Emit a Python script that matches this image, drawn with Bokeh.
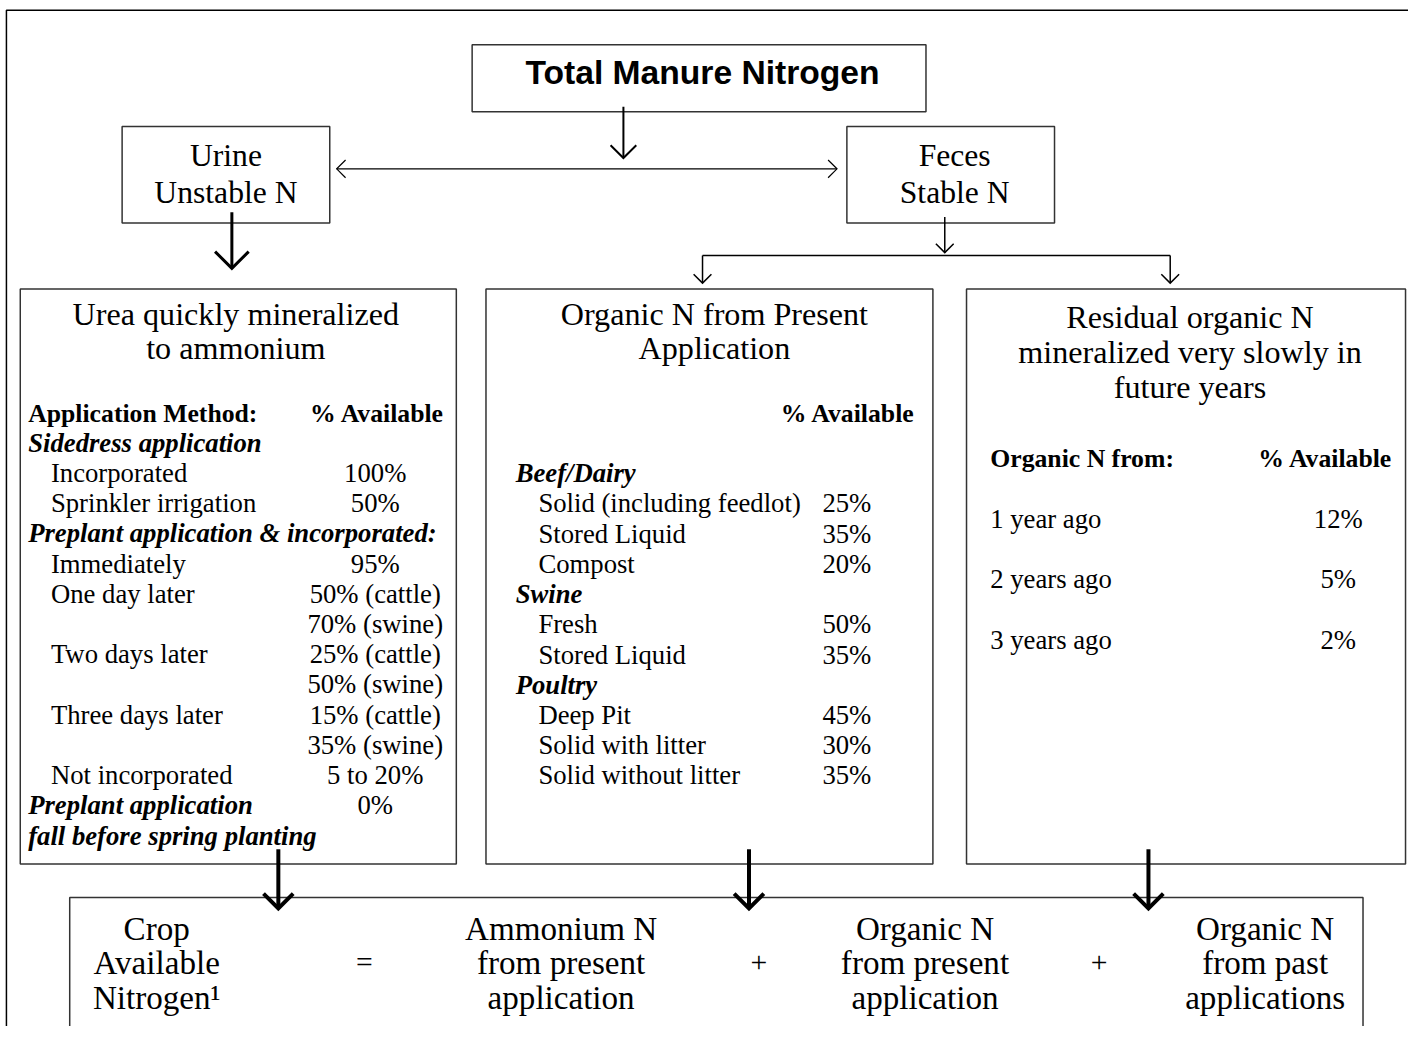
from bokeh.plotting import figure
from bokeh.models import Range1d
from bokeh.core.properties import value
from bokeh.embed import file_html
from bokeh.resources import INLINE

SERIF = "'Liberation Serif', 'Times New Roman', serif"
SANS = "'Liberation Sans Narrow', 'Arial Narrow', 'Liberation Sans', sans-serif"

# ---------------- content ----------------
title_text = "Total Manure Nitrogen"
urine_lines = ["Urine", "Unstable N"]
feces_lines = ["Feces", "Stable N"]

urea_title = ["Urea quickly mineralized", "to ammonium"]
urea_header = ["Application Method:", "% Available"]
urea_labels = ["Sidedress application", "Incorporated", "Sprinkler irrigation",
               "Preplant application & incorporated:", "Immediately", "One day later", "",
               "Two days later", "", "Three days later", "", "Not incorporated",
               "Preplant application", "fall before spring planting"]
urea_is_head = [1, 0, 0, 1, 0, 0, 0, 0, 0, 0, 0, 0, 1, 1]
urea_values = ["", "100%", "50%", "", "95%", "50% (cattle)", "70% (swine)",
               "25% (cattle)", "50% (swine)", "15% (cattle)", "35% (swine)",
               "5 to 20%", "0%", ""]

org_title = ["Organic N from Present", "Application"]
org_header = "% Available"
org_labels = ["Beef/Dairy", "Solid (including feedlot)", "Stored Liquid", "Compost",
              "Swine", "Fresh", "Stored Liquid", "Poultry", "Deep Pit",
              "Solid with litter", "Solid without litter"]
org_is_head = [1, 0, 0, 0, 1, 0, 0, 1, 0, 0, 0]
org_values = ["", "25%", "35%", "20%", "", "50%", "35%", "", "45%", "30%", "35%"]

res_title = ["Residual organic N", "mineralized very slowly in", "future years"]
res_header = ["Organic N from:", "% Available"]
res_labels = ["1 year ago", "2 years ago", "3 years ago"]
res_values = ["12%", "5%", "2%"]

eq_terms = [["Crop", "Available", "Nitrogen\u00b9"],
            ["Ammonium N", "from present", "application"],
            ["Organic N", "from present", "application"],
            ["Organic N", "from past", "applications"]]
eq_ops = ["=", "+", "+"]

# ---------------- figure ----------------
W, H = 1408, 1026
SC = W / 1424.0
p = figure(width=W, height=H, x_range=Range1d(0, 1424), y_range=Range1d(1042, 0),
           x_axis_type=None, y_axis_type=None, toolbar_location=None,
           output_backend="svg", min_border=0, outline_line_color=None)
p.grid.visible = False
p.background_fill_color = "white"
p.border_fill_color = "white"


def txt(xs, ys, texts, size, font=SERIF, style="normal", align="left"):
    p.text(x=xs, y=ys, text=texts, text_font=value(font),
           text_font_size=value(f"{size * SC:.2f}px"), text_font_style=value(style),
           text_align=value(align), text_baseline=value("middle"), text_color="black")


def box(l, r, t, b, lw=1.5, color="#333333"):
    p.quad(left=[l], right=[r], top=[t], bottom=[b], fill_color=None,
           line_color=color, line_width=lw)


def arrow(x0, y0, x1, y1, lw, h, both=False):
    p.line([x0, x1], [y0, y1], line_color="black", line_width=lw)
    ends = [(x0, y0, x1, y1)] + ([(x1, y1, x0, y0)] if both else [])
    for (ax, ay, bx, by) in ends:
        dx, dy = bx - ax, by - ay
        n = (dx * dx + dy * dy) ** 0.5
        ux, uy = dx / n, dy / n
        px, py = -uy, ux
        p.line([bx - h * ux + h * px, bx, bx - h * ux - h * px],
               [by - h * uy + h * py, by, by - h * uy - h * py],
               line_color="black", line_width=lw, line_join="miter")


REG, BLD = 27, 26

# outer frame (left & top)
p.line([6, 6, 1424], [1042, 10, 10], line_color="black", line_width=1.5)

# top boxes
box(477, 936, 45, 113)
txt([710], [73], [title_text], 34, font=SANS, style="bold", align="center")
box(123, 333, 128, 226)
txt([228, 228], [157, 195], urine_lines, 32, align="center")
box(856, 1066, 128, 226)
txt([965, 965], [157, 195], feces_lines, 32, align="center")

# connectors
arrow(630, 108, 630, 160, 2, 13)
arrow(340, 171, 846, 171, 1.2, 9, both=True)
arrow(234, 215, 234, 272, 3, 17)
arrow(955, 220, 955, 256, 1.5, 9)
p.line([710, 1183], [259, 259], line_color="black", line_width=1.5)
arrow(710, 259, 710, 287, 1.5, 9)
arrow(1183, 259, 1183, 287, 1.5, 9)

# three middle boxes
box(20, 461, 293, 877)
box(491, 943, 293, 877)
box(977, 1421, 293, 877)

# box 1
txt([238, 238], [318, 353], urea_title, 32.5, align="center")
txt([28], [419], [urea_header[0]], BLD, style="bold")
txt([313], [419], [urea_header[1]], BLD, style="bold")
step = 30.7
ys1 = [449 + i * step for i in range(len(urea_labels))]
hx = [i for i in range(len(urea_labels)) if urea_is_head[i]]
txt([28] * len(hx), [ys1[i] for i in hx], [urea_labels[i] for i in hx], REG, style="bold italic")
ix = [i for i in range(len(urea_labels)) if not urea_is_head[i] and urea_labels[i]]
txt([51] * len(ix), [ys1[i] for i in ix], [urea_labels[i] for i in ix], REG)
vx = [i for i in range(len(urea_values)) if urea_values[i]]
txt([379] * len(vx), [ys1[i] for i in vx], [urea_values[i] for i in vx], REG, align="center")

# box 2
txt([722, 722], [318, 353], org_title, 32.5, align="center")
txt([789], [419], [org_header], BLD, style="bold")
ys2 = [480 + i * step for i in range(len(org_labels))]
hx = [i for i in range(len(org_labels)) if org_is_head[i]]
txt([521] * len(hx), [ys2[i] for i in hx], [org_labels[i] for i in hx], REG, style="bold italic")
ix = [i for i in range(len(org_labels)) if not org_is_head[i]]
txt([544] * len(ix), [ys2[i] for i in ix], [org_labels[i] for i in ix], REG)
txt([856] * len(ix), [ys2[i] for i in ix], [org_values[i] for i in ix], REG, align="center")

# box 3
txt([1203] * 3, [321, 357, 393], res_title, 32.5, align="center")
txt([1001], [465], [res_header[0]], BLD, style="bold")
txt([1272], [465], [res_header[1]], BLD, style="bold")
ys3 = [527 + i * 61 for i in range(len(res_labels))]
txt([1001] * 3, ys3, res_labels, REG)
txt([1353] * 3, ys3, res_values, REG, align="center")

# bottom equation box (open at bottom)
p.line([70, 70, 1378, 1378], [1045, 911, 911, 1045], line_color="#333333", line_width=1.5)
term_x = [158, 567, 935, 1279]
line_y = [942, 977, 1013]
for cx, lines in zip(term_x, eq_terms):
    txt([cx] * 3, line_y, lines, 33.5, align="center")
txt([368, 767, 1111], [977] * 3, eq_ops, 30, align="center")

# thick arrows into equation
arrow(281, 862, 281, 922, 4, 15)
arrow(757, 862, 757, 922, 4, 15)
arrow(1161, 862, 1161, 922, 4, 15)

open("out.html", "w").write(file_html(p, INLINE))
